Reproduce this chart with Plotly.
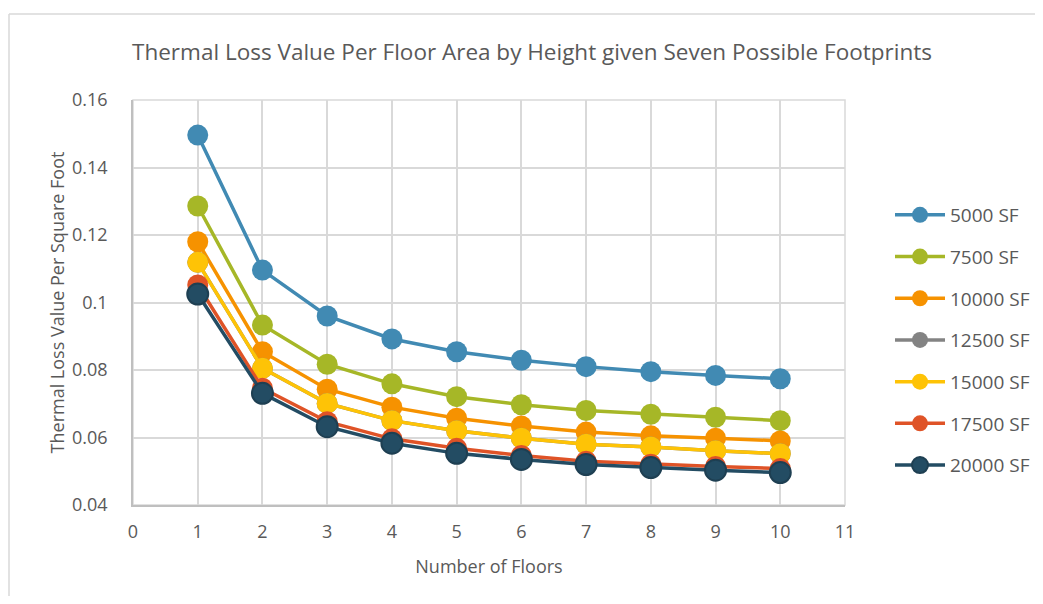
import plotly.graph_objects as go

floors = [1, 2, 3, 4, 5, 6, 7, 8, 9, 10]
series_names = ["5000 SF", "7500 SF", "10000 SF", "12500 SF", "15000 SF", "17500 SF", "20000 SF"]
sf5000 = [0.1496, 0.1096, 0.0960, 0.0892, 0.0854, 0.0829, 0.0810, 0.0795, 0.0784, 0.0774]
sf7500 = [0.1286, 0.0933, 0.0817, 0.0759, 0.0721, 0.0697, 0.0680, 0.0669, 0.0660, 0.0650]
sf10000 = [0.1180, 0.0854, 0.0743, 0.0690, 0.0657, 0.0634, 0.0616, 0.0605, 0.0598, 0.0590]
sf12500 = [0.1119, 0.0805, 0.0701, 0.0650, 0.0620, 0.0598, 0.0580, 0.0572, 0.0561, 0.0552]
sf15000 = [0.1119, 0.0805, 0.0701, 0.0650, 0.0620, 0.0598, 0.0580, 0.0572, 0.0561, 0.0552]
sf17500 = [0.1052, 0.0746, 0.0647, 0.0596, 0.0568, 0.0547, 0.0530, 0.0521, 0.0514, 0.0508]
sf20000 = [0.1025, 0.0731, 0.0632, 0.0583, 0.0553, 0.0535, 0.0520, 0.0511, 0.0503, 0.0496]
all_series = [sf5000, sf7500, sf10000, sf12500, sf15000, sf17500, sf20000]
colors = ["#418AB3", "#A6B727", "#F69200", "#838383", "#FEC306", "#DF5327", "#234C63"]
outline = [None, None, None, None, None, None, "#1E3F52"]

fig = go.Figure()
for i, (name, vals, c, oc) in enumerate(zip(series_names, all_series, colors, outline)):
    fig.add_trace(go.Scatter(
        x=floors, y=vals, name=name, mode="lines+markers",
        line=dict(color=c, width=3.5),
        marker=dict(color=c, size=21, line=dict(width=2 if oc else 0, color=oc or c)),
        legendgroup=f"g{i}",
    ))

OFF = 8  # page body margin
W, H = 1043 - 2 * OFF, 604 - 2 * OFF
L, R, T, B = 133, 845, 100, 505
pw, ph = R - L, B - T

def px_to_paper_x(x):
    return (x - L) / pw

def px_to_paper_y(y):
    return (B - y) / ph

shapes = [
    dict(type="rect", xref="paper", yref="paper", x0=0, y0=0, x1=1, y1=1,
         line=dict(color="#D9D9D9", width=1.5), layer="below"),
    # outer chart border (top and left edges; right/bottom fall outside the view)
    dict(type="line", xref="paper", yref="paper",
         x0=px_to_paper_x(9), y0=px_to_paper_y(14), x1=px_to_paper_x(1100), y1=px_to_paper_y(14),
         line=dict(color="#D9D9D9", width=1.5), layer="below"),
    dict(type="line", xref="paper", yref="paper",
         x0=px_to_paper_x(9), y0=px_to_paper_y(14), x1=px_to_paper_x(9), y1=px_to_paper_y(660),
         line=dict(color="#D9D9D9", width=1.5), layer="below"),
]

fig.update_layout(
    width=W, height=H,
    margin=dict(l=L - OFF, r=W - (R - OFF), t=T - OFF, b=H - (B - OFF), autoexpand=False),
    paper_bgcolor="white", plot_bgcolor="white",
    font=dict(family="Open Sans, Noto Sans, sans-serif", color="#595959"),
    title=dict(text="Thermal Loss Value Per Floor Area by Height given Seven Possible Footprints",
               x=(532 - OFF) / W, xanchor="center",
               y=1 - (52 - OFF) / H, yanchor="middle",
               font=dict(size=22.5, color="#595959")),
    xaxis=dict(range=[0, 11], dtick=1, tick0=0, showgrid=True, gridcolor="#D9D9D9", gridwidth=1.5,
               showline=True, linecolor="#BFBFBF", linewidth=1.5, zeroline=False,
               ticks="", ticklabelstandoff=10, tickfont=dict(size=18, color="#595959"),
               title=dict(text="Number of Floors", font=dict(size=18, color="#595959"), standoff=18)),
    yaxis=dict(range=[0.04, 0.16], dtick=0.02, tick0=0.04, showgrid=True, gridcolor="#D9D9D9", gridwidth=1.5,
               showline=True, linecolor="#BFBFBF", linewidth=1.5, zeroline=False,
               ticks="", ticklabelstandoff=20, tickfont=dict(size=18, color="#595959"),
               title=dict(text="Thermal Loss Value Per Square Foot", font=dict(size=18, color="#595959"), standoff=3)),
    legend=dict(x=px_to_paper_x(890), y=px_to_paper_y(196), xanchor="left", yanchor="top",
                font=dict(size=19, color="#595959"), tracegroupgap=14, traceorder="grouped",
                itemwidth=50, bgcolor="rgba(0,0,0,0)"),
    shapes=shapes,
)

fig.write_html("out.html")
